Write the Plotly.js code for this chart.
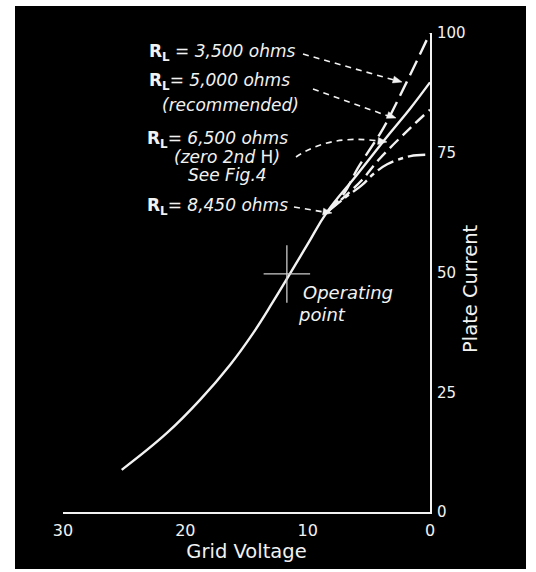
<!DOCTYPE html>
<html><head><meta charset="utf-8">
<script src="https://cdn.plot.ly/plotly-3.0.1.min.js"></script>
<style>html,body{margin:0;padding:0;background:#fff;}#c{width:536px;height:572px;}</style>
</head><body><div id="c"></div>
<script>
// Grid voltage (negative volts, plotted 30 -> 0) and plate current (mA)
const v5000 = [25.2, 21.5, 18.8, 16.35, 14.47, 12.83, 10.05, 8.42, 6.0, 3.3, 1.6, 0];
const i5000 = [8.8, 16.5, 23.4, 30.7, 37.3, 43.9, 55.7, 62.6, 70.3, 79.0, 84.3, 89.7];
const v3500 = [8.42, 7.0, 5.9, 3.8, 1.9, 0];
const i3500 = [62.6, 66.6, 71.8, 80.2, 89.8, 100];
const v6500 = [8.42, 7.0, 5.6, 4.1, 1.6, 0];
const i6500 = [62.6, 65.8, 69.2, 73.8, 80.2, 84.0];
const v8450 = [8.42, 7.0, 5.5, 4.7, 3.5, 1.6, 0];
const i8450 = [62.6, 65.5, 68.4, 70.4, 72.6, 74.3, 74.6];
const opV = 11.7, opI = 49.7;
const xTicks = [30, 20, 10, 0];
const yTicks = [0, 25, 50, 75, 100];

const W = '#f2f2f2';
const FF = '"DejaVu Sans", sans-serif';
const L = 63, R = 430, T = 33, B = 512;
const fx = p => (p - L) / (R - L);
const fy = p => (B - p) / (B - T);

const traces = [
  {x: v5000, y: i5000, mode: 'lines', line: {color: W, width: 2.4, shape: 'spline', smoothing: 1.2}},
  {x: v3500, y: i3500, mode: 'lines', line: {color: W, width: 2.4, shape: 'spline', smoothing: 1, dash: '16px,7px'}},
  {x: v6500, y: i6500, mode: 'lines', line: {color: W, width: 2.4, shape: 'spline', smoothing: 1, dash: '12px,6px'}},
  {x: v8450, y: i8450, mode: 'lines', line: {color: W, width: 2.4, shape: 'spline', smoothing: 1, dash: '18px,5px,5px,5px'}},
  {x: [opV + 1.9, opV - 1.9], y: [opI, opI], mode: 'lines', line: {color: '#cccccc', width: 1.3}},
  {x: [opV, opV], y: [opI + 6, opI - 6], mode: 'lines', line: {color: '#cccccc', width: 1.3}}
];

const tf = {family: FF, size: 17, color: W};
function lab(text, px, py, size) {
  return {xref: 'paper', yref: 'paper', x: fx(px), y: fy(py), xanchor: 'left', yanchor: 'middle', align: 'left',
          text: text, showarrow: false, borderpad: 0, font: Object.assign({}, tf, size ? {size: size} : {})};
}
const RL = '<b>R<sub>L</sub></b>';
const annotations = [
  lab(RL + '<i> = 3,500 ohms</i>', 148, 52),
  lab(RL + '<i>= 5,000 ohms</i>', 148, 82),
  lab('<i>(recommended)</i>', 161, 105),
  lab(RL + '<i>= 6,500 ohms</i>', 146, 139),
  lab('<i>(zero 2nd </i>H<i>)</i>', 173, 157),
  lab('<i>See Fig.4</i>', 187, 175),
  lab(RL + '<i>= 8,450 ohms</i>', 146, 206),
  lab('<i>Operating</i>', 302, 292, 18),
  lab('<i>point</i>', 297, 314, 18),
  {xref: 'paper', yref: 'paper', x: fx(470), y: fy(289), xanchor: 'center', yanchor: 'middle',
   text: 'Plate Current', textangle: -90, showarrow: false, borderpad: 0, font: {family: FF, size: 19.5, color: W}}
];

const dashLine = (x0, y0, x1, y1) => ({type: 'line', xref: 'paper', yref: 'paper',
  x0: fx(x0), y0: fy(y0), x1: fx(x1), y1: fy(y1), line: {color: W, width: 1.6, dash: '6px,5px'}});
function tri(tx, ty, fromx, fromy) {
  const dx = tx - fromx, dy = ty - fromy, n = Math.hypot(dx, dy), ux = dx / n, uy = dy / n;
  const bx = tx - ux * 9, by = ty - uy * 9, px = -uy * 3.5, py = ux * 3.5;
  return {type: 'path', xref: 'paper', yref: 'paper', fillcolor: W, line: {color: W, width: 0.5},
    path: `M ${fx(tx)},${fy(ty)} L ${fx(bx + px)},${fy(by + py)} L ${fx(bx - px)},${fy(by - py)} Z`};
}
const shapes = [
  {type: 'rect', xref: 'paper', yref: 'paper', layer: 'below', x0: fx(15), x1: fx(526), y0: fy(6), y1: fy(569),
   fillcolor: '#000', line: {width: 0}},
  dashLine(303, 54, 394, 80), tri(402, 82, 303, 54),
  dashLine(313, 89, 388, 116), tri(396, 118, 313, 89),
  {type: 'path', xref: 'paper', yref: 'paper',
   path: `M ${fx(296)},${fy(157)} Q ${fx(330)},${fy(134)} ${fx(378)},${fy(141)}`,
   line: {color: W, width: 1.6, dash: '6px,5px'}}, tri(387, 142, 370, 140),
  dashLine(294, 207, 324, 212), tri(332, 213, 300, 208)
];

const layout = {
  width: 536, height: 572, showlegend: false,
  paper_bgcolor: '#fff', plot_bgcolor: 'rgba(0,0,0,0)',
  margin: {l: L, r: 536 - R, t: T, b: 572 - B, pad: 0},
  xaxis: {range: [30, 0], tickvals: xTicks, ticktext: xTicks.map(String), showgrid: false, zeroline: false,
          showline: true, linecolor: W, linewidth: 2, ticks: '', fixedrange: true, ticklabelstandoff: 3,
          tickfont: {family: FF, size: 16, color: W},
          title: {text: 'Grid Voltage', standoff: 3, font: {family: FF, size: 19.5, color: W}}},
  yaxis: {range: [0, 100], side: 'right', tickvals: yTicks, ticktext: yTicks.map(String), showgrid: false,
          zeroline: false, showline: true, linecolor: W, linewidth: 2, ticks: '', ticklabelstandoff: 2,
          tickfont: {family: FF, size: 15, color: W}},
  annotations: annotations, shapes: shapes
};
Plotly.newPlot('c', traces, layout, {displayModeBar: false, staticPlot: true});
</script></body></html>
